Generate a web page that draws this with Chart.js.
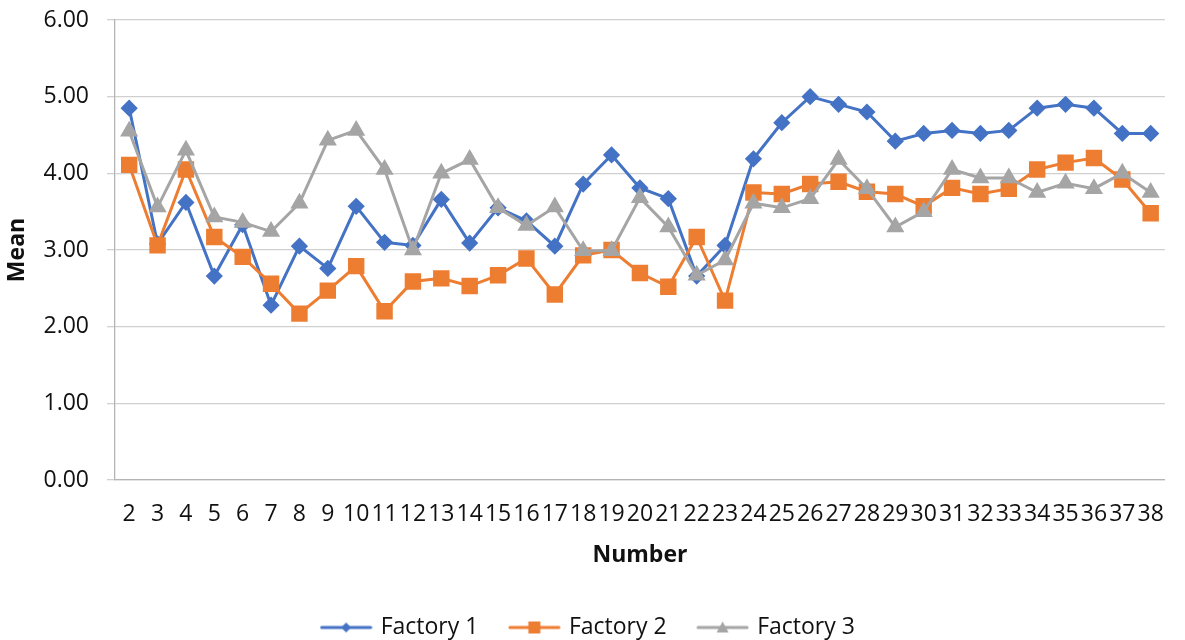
<!DOCTYPE html>
<html>
<head>
<meta charset="utf-8">
<script src="https://cdn.jsdelivr.net/npm/chart.js@4"></script>
<style>
  html, body { margin: 0; padding: 0; background: #fff; }
  #wrap { width: 1185px; height: 640px; }
</style>
</head>
<body>
<div id="wrap"><canvas id="meanChart" width="1185" height="640"></canvas></div>
<script>
const numbers = ["2", "3", "4", "5", "6", "7", "8", "9", "10", "11", "12", "13",
  "14", "15", "16", "17", "18", "19", "20", "21", "22", "23", "24", "25", "26",
  "27", "28", "29", "30", "31", "32", "33", "34", "35", "36", "37", "38"];

const factory1 = [4.85, 3.08, 3.62, 2.66, 3.33, 2.28, 3.05, 2.76, 3.57, 3.10,
  3.06, 3.66, 3.09, 3.55, 3.38, 3.05, 3.86, 4.24, 3.81, 3.67, 2.66, 3.06, 4.19,
  4.66, 5.00, 4.90, 4.80, 4.42, 4.52, 4.56, 4.52, 4.56, 4.85, 4.90, 4.85, 4.52, 4.52];

const factory2 = [4.11, 3.06, 4.05, 3.17, 2.91, 2.56, 2.17, 2.47, 2.79, 2.20,
  2.59, 2.63, 2.53, 2.67, 2.89, 2.42, 2.93, 3.00, 2.70, 2.52, 3.17, 2.34, 3.75,
  3.73, 3.86, 3.89, 3.76, 3.73, 3.57, 3.81, 3.73, 3.80, 4.05, 4.14, 4.20, 3.92, 3.48];

const factory3 = [4.55, 3.56, 4.30, 3.43, 3.36, 3.24, 3.61, 4.43, 4.56, 4.05,
  3.00, 4.00, 4.18, 3.55, 3.32, 3.56, 2.99, 2.99, 3.68, 3.30, 2.67, 2.87, 3.61,
  3.55, 3.67, 4.18, 3.80, 3.30, 3.50, 4.05, 3.94, 3.94, 3.75, 3.87, 3.80, 4.00, 3.75];

const yTicks = [0, 1, 2, 3, 4, 5, 6];

const colors = {
  blue: "#4472C4",
  orange: "#ED7D31",
  gray: "#A5A5A5",
  grid: "#D0D0D0",
  axis: "#B4B4B4",
  text: "#111111",
};

const fontFamily = "'Open Sans', 'Noto Sans', sans-serif";

// small line + marker icons for the legend
function legendIcon(color, marker) {
  const c = document.createElement("canvas");
  c.width = 53;
  c.height = 16;
  const g = c.getContext("2d");
  g.strokeStyle = color;
  g.fillStyle = color;
  g.lineWidth = 3;
  g.lineCap = "round";
  g.beginPath();
  g.moveTo(2, 8);
  g.lineTo(51, 8);
  g.stroke();
  g.beginPath();
  if (marker === "diamond") {
    g.moveTo(26.5, 3);
    g.lineTo(31.5, 8);
    g.lineTo(26.5, 13);
    g.lineTo(21.5, 8);
  } else if (marker === "square") {
    g.rect(20.5, 2, 12, 12);
  } else {
    g.moveTo(26.5, 2);
    g.lineTo(32.5, 13);
    g.lineTo(20.5, 13);
  }
  g.closePath();
  g.fill();
  return c;
}

const icons = [
  legendIcon(colors.blue, "diamond"),
  legendIcon(colors.orange, "square"),
  legendIcon(colors.gray, "triangle"),
];

const ctx = document.getElementById("meanChart");
new Chart(ctx, {
  type: "line",
  data: {
    labels: numbers,
    datasets: [
      {
        label: "Factory 1",
        data: factory1,
        borderColor: colors.blue,
        backgroundColor: colors.blue,
        pointStyle: "rectRot",
        pointRadius: 6.5,
        pointHoverRadius: 6.5,
        borderWidth: 3,
        order: 3,
      },
      {
        label: "Factory 2",
        data: factory2,
        borderColor: colors.orange,
        backgroundColor: colors.orange,
        pointStyle: "rect",
        pointRadius: 9.5,
        pointHoverRadius: 9.5,
        borderWidth: 3,
        order: 2,
      },
      {
        label: "Factory 3",
        data: factory3,
        borderColor: colors.gray,
        backgroundColor: colors.gray,
        pointStyle: "triangle",
        pointRadius: 7.5,
        pointHoverRadius: 7.5,
        borderWidth: 3,
        order: 1,
      },
    ],
  },
  options: {
    responsive: false,
    animation: false,
    layout: {
      padding: { top: 20, right: 7, bottom: -9, left: 0 },
    },
    elements: {
      line: { tension: 0 },
      point: { borderWidth: 1 },
    },
    plugins: {
      tooltip: { enabled: false },
      legend: {
        position: "bottom",
        labels: {
          usePointStyle: true,
          pointStyleWidth: 46,
          padding: 33,
          color: colors.text,
          font: { family: fontFamily, size: 23 },
          sort: (a, b) => a.datasetIndex - b.datasetIndex,
          generateLabels: (chart) =>
            Chart.defaults.plugins.legend.labels
              .generateLabels(chart)
              .map((item) => ({ ...item, pointStyle: icons[item.datasetIndex] })),
        },
      },
    },
    scales: {
      x: {
        offset: true,
        grid: { display: false, drawTicks: false },
        border: { display: true, color: colors.axis, width: 1.3 },
        ticks: {
          autoSkip: false,
          maxRotation: 0,
          minRotation: 0,
          padding: 21,
          color: colors.text,
          font: { family: fontFamily, size: 23 },
        },
        title: {
          display: true,
          text: "Number",
          color: colors.text,
          font: { family: fontFamily, size: 23, weight: "bold" },
          padding: { top: 0, bottom: 14 },
        },
        afterFit: (scale) => {
          scale.height = 103;
        },
      },
      y: {
        min: 0,
        max: 6,
        afterBuildTicks: (scale) => {
          scale.ticks = yTicks.map((v) => ({ value: v }));
        },
        grid: {
          color: colors.grid,
          lineWidth: 1.3,
          tickLength: 8,
          drawTicks: true,
        },
        border: { display: true, color: colors.axis, width: 1.3 },
        ticks: {
          padding: 18,
          color: colors.text,
          font: { family: fontFamily, size: 23 },
          callback: (v) => Number(v).toFixed(2),
        },
        title: {
          display: true,
          text: "Mean",
          color: colors.text,
          font: { family: fontFamily, size: 23, weight: "bold" },
          padding: { top: 4, bottom: 0 },
        },
        afterFit: (scale) => {
          scale.width = 115;
          scale.paddingTop = 0;
          scale.paddingBottom = 0;
        },
      },
    },
  },
});
</script>
</body>
</html>
